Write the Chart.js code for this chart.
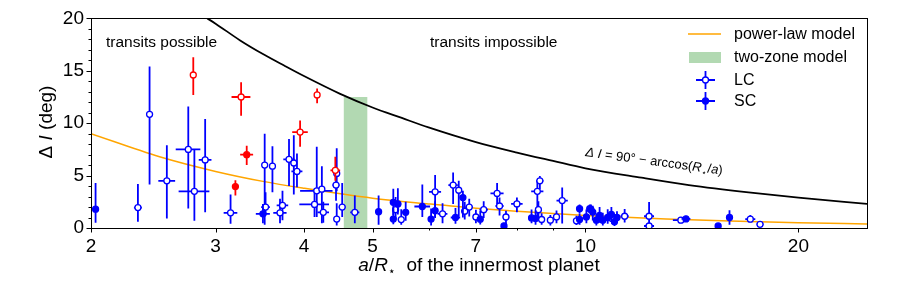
<!DOCTYPE html>
<html>
<head>
<meta charset="utf-8">
<script src="https://cdn.jsdelivr.net/npm/chart.js@4.4.1/dist/chart.umd.min.js"></script>
<style>
  html, body { margin: 0; padding: 0; background: #fff; }
</style>
</head>
<body>
<canvas id="chInc" width="913" height="286"></canvas>
<script>
// colors
var blue = '#0000ff', red = '#ff0000', orange = '#ffa500', green = 'rgba(0,128,0,0.3)';
var FONT = '"Liberation Sans", Arial, sans-serif';

// rows: [a/R*, a err, dI, dI err down, dI err up]
var lcPoints = [
  [2.33,0.03,1.95,1.35,2.25],[2.42,0,10.85,6.7,4.55],[2.56,0.07,4.5,3.6,3.4],[2.745,0.11,7.5,5.65,4.1],
  [2.80,0.14,3.5,2.8,3.95],[2.90,0.06,6.5,5.0,3.9],[3.15,0.07,1.45,1.05,1.75],[3.52,0,6.0,5.7,3.0],
  [3.53,0.05,2.0,0.8,1.4],[3.61,0,5.9,2.5,1.9],[3.70,0.08,1.45,1.0,1.35],[3.73,0.07,2.15,1.4,1.4],
  [3.81,0.07,6.55,2.55,1.95],[3.87,0.04,6.2,3.0,2.65],[3.91,0.07,5.4,1.5,1.7],[4.14,0.2,2.25,1.2,1.5],
  [4.17,0.22,3.55,2.5,4.2],[4.24,0.04,3.7,3.25,2.2],[4.26,0.08,1.5,1.0,1.0],[4.45,0.04,5.2,1.7,2.4],
  [4.44,0.05,4.1,1.5,1.5],[4.45,0.03,0.85,0.6,1.5],[4.53,0.05,2.0,0.95,2.3],[4.72,0.07,1.5,1.05,1.6],
  [5.39,0.06,1.75,0.9,1.2],[5.49,0.05,0.8,0.5,1.0],[6.13,0.12,3.45,2.4,1.6],[6.28,0.1,1.35,0.9,1.0],
  [6.50,0.1,4.1,1.8,1.2],[6.62,0.06,3.6,2.5,0.9],[6.75,0.08,1.6,0.8,0.9],[6.85,0.08,2.0,0.9,0.8],
  [7.0,0.07,1.05,0.6,0.7],[7.18,0.1,1.75,0.8,0.8],[7.5,0.16,3.3,1.0,1.0],[7.56,0.1,2.1,0.9,0.8],
  [7.72,0.08,1.05,0.7,0.6],[8.0,0.15,2.3,0.8,0.6],[8.55,0.17,3.5,2.7,1.0],[8.62,0.1,4.5,0.8,0.45],
  [8.58,0.06,1.75,0.8,0.8],[8.67,0.06,0.81,0.5,0.6],[8.92,0.06,0.75,0.5,0.5],[9.1,0.07,1.06,0.6,0.6],
  [9.27,0.17,2.62,2.2,1.25],[9.71,0.07,0.68,0.4,0.5],[10.18,0.1,1.75,0.5,0.5],[10.9,0.08,0.9,0.5,0.6],
  [11.36,0.15,1.12,0.6,0.7],[12.3,0.2,1.12,0.8,1.35],[12.3,0.2,0.19,0.15,0.2],[13.64,0.35,0.75,0.3,0.3],
  [17.1,0.28,0.84,0.3,0.4],[17.65,0.2,0.35,0.2,0.3]
];
var scPoints = [
  [2.03,0,1.8,1.3,2.5],[3.50,0.08,1.35,0.9,0.95],[5.10,0,1.55,1.25,1.55],[5.35,0.05,2.45,1.2,1.3],
  [5.43,0.06,2.3,1.0,1.5],[5.35,0.04,0.85,0.5,1.0],[5.57,0.06,1.5,0.8,1.0],[5.88,0.15,2.05,1.0,2.1],
  [6.05,0.05,0.85,0.6,1.0],[6.13,0.06,1.65,0.7,0.9],[6.55,0.1,1.0,0.6,0.9],[6.71,0.04,2.9,1.9,0.65],
  [7.1,0.05,0.84,0.5,0.8],[7.67,0,0.2,0.15,0.3],[8.39,0.08,0.96,0.5,0.8],[8.5,0.07,0.9,0.6,0.8],
  [9.81,0.1,1.84,0.4,0.4],[9.81,0.06,0.81,0.5,0.6],[10.03,0.08,1.06,0.6,0.7],[10.14,0.1,1.84,0.4,0.4],
  [10.24,0.07,1.52,0.8,0.6],[10.36,0.07,0.75,0.5,0.6],[10.47,0.08,1.2,0.7,0.8],[10.58,0.06,0.75,0.5,0.7],
  [10.75,0.07,1.0,0.6,0.8],[10.88,0.06,1.3,0.6,0.7],[10.99,0.05,0.6,0.4,0.5],[11.08,0.06,1.0,0.5,0.6],
  [13.87,0.2,0.87,0.3,0.3],[15.4,0,0.2,0.15,0.2],[15.98,0,1.0,0.7,0.7]
];
var redOpen = [[2.79,0,14.6,1.9,1.7],[3.26,0.1,12.5,1.8,1.4],[3.95,0.1,9.15,1.4,1.1],[4.175,0.03,12.7,0.8,0.6],[4.43,0.07,5.5,1.0,1.3]];
var redFilled = [[3.20,0,3.95,0.85,0.6],[3.32,0.07,7.0,1.0,0.85]];

// model curves
var powerA  = [2, 2.5, 3, 3.5, 4, 5, 6, 7, 8, 10, 13, 16, 20, 25];
var powerDI = [9.0, 6.8, 5.4, 4.45, 3.8, 2.85, 2.3, 1.88, 1.6, 1.2, 0.86, 0.66, 0.5, 0.38];
var limitA  = [2.92, 3.0, 3.25, 3.5, 3.75, 4.0, 4.5, 5.0, 5.5, 6.0, 7.0, 8.0, 9.0, 10, 12, 14, 17, 20, 25];
var limitDI = [20.0, 19.5, 17.9, 16.6, 15.5, 14.5, 12.8, 11.5, 10.5, 9.6, 8.2, 7.2, 6.4, 5.7, 4.8, 4.1, 3.4, 2.9, 2.3];
var zoneA = [4.55, 4.92], zoneTop = 12.5;

var xTicks = [2, 3, 4, 5, 7, 10, 20];
var xMinor = [6, 8, 9];

function toPts(rows) {
  return rows.map(function (r) { return {x: r[0], y: r[2], xe: r[1], ylo: r[3], yhi: r[4]}; });
}
function toLine(xs, ys) {
  return xs.map(function (v, i) { return {x: v, y: ys[i]}; });
}

// error bars drawn just before each scatter set
var errorBars = {
  id: 'errorBars',
  beforeDatasetDraw: function (chart, args) {
    var ds = chart.data.datasets[args.index];
    if (!ds.errColor) return;
    var sx = chart.scales.x, sy = chart.scales.y, ctx = chart.ctx, a = chart.chartArea;
    ctx.save();
    ctx.beginPath(); ctx.rect(a.left, a.top, a.right - a.left, a.bottom - a.top); ctx.clip();
    ctx.strokeStyle = ds.errColor; ctx.lineWidth = 1.8;
    ds.data.forEach(function (p) {
      var px = sx.getPixelForValue(p.x), py = sy.getPixelForValue(p.y);
      ctx.beginPath();
      ctx.moveTo(px, sy.getPixelForValue(p.y - p.ylo));
      ctx.lineTo(px, sy.getPixelForValue(p.y + p.yhi));
      if (p.xe) {
        ctx.moveTo(sx.getPixelForValue(p.x - p.xe), py);
        ctx.lineTo(sx.getPixelForValue(p.x + p.xe), py);
      }
      ctx.stroke();
    });
    ctx.restore();
  }
};

// frame, ticks, titles, notes, legend
var decor = {
  id: 'decor',
  afterDraw: function (chart) {
    var ctx = chart.ctx, a = chart.chartArea, sx = chart.scales.x, sy = chart.scales.y;
    ctx.save();
    ctx.strokeStyle = '#000'; ctx.lineWidth = 1;
    ctx.strokeRect(Math.round(a.left) + 0.5, Math.round(a.top) + 0.5, Math.round(a.right - a.left), Math.round(a.bottom - a.top));
    ctx.beginPath();
    xTicks.forEach(function (v) { var p = Math.round(sx.getPixelForValue(v)) + 0.5; ctx.moveTo(p, a.bottom); ctx.lineTo(p, a.bottom + 4.5); });
    xMinor.forEach(function (v) { var p = Math.round(sx.getPixelForValue(v)) + 0.5; ctx.moveTo(p, a.bottom); ctx.lineTo(p, a.bottom + 2.5); });
    for (var t = 0; t <= 20; t++) {
      var q = Math.round(sy.getPixelForValue(t)) + 0.5;
      ctx.moveTo(a.left, q); ctx.lineTo(a.left - (t % 5 === 0 ? 4.5 : 2.5), q);
    }
    ctx.stroke();

    ctx.fillStyle = '#000';
    // x title
    var parts = [['italic 19px ' + FONT, 'a', 0], ['19px ' + FONT, '/', 0], ['italic 19px ' + FONT, 'R', 0],
                 ['12px ' + FONT, '\u22c6', 4], ['19px ' + FONT, '  of the innermost planet', 0]];
    var w = 0;
    parts.forEach(function (p) { ctx.font = p[0]; w += ctx.measureText(p[1]).width; });
    var x0 = 479 - w / 2;
    ctx.textBaseline = 'alphabetic'; ctx.textAlign = 'left';
    parts.forEach(function (p) { ctx.font = p[0]; ctx.fillText(p[1], x0, 271 + p[2]); x0 += ctx.measureText(p[1]).width; });

    // y title
    ctx.save();
    ctx.translate(52, 122); ctx.rotate(-Math.PI / 2);
    var yp = [['19px ' + FONT, '\u0394 '], ['italic 19px ' + FONT, 'I'], ['19px ' + FONT, ' (deg)']];
    w = 0; yp.forEach(function (p) { ctx.font = p[0]; w += ctx.measureText(p[1]).width; });
    x0 = -w / 2;
    yp.forEach(function (p) { ctx.font = p[0]; ctx.fillText(p[1], x0, 0); x0 += ctx.measureText(p[1]).width; });
    ctx.restore();

    // region notes
    ctx.font = '15.5px ' + FONT;
    ctx.fillText('transits possible', 106, 47);
    ctx.fillText('transits impossible', 430, 47);

    // boundary formula
    ctx.save();
    ctx.translate(585, 156); ctx.rotate(0.135);
    var fp = [['italic 13px ' + FONT, '\u0394 I'], ['13px ' + FONT, ' = 90\u00b0 \u2212 arccos('], ['italic 13px ' + FONT, 'R'],
              ['8.5px ' + FONT, '\u22c6'], ['13px ' + FONT, '/'], ['italic 13px ' + FONT, 'a'], ['13px ' + FONT, ')']];
    x0 = 0;
    fp.forEach(function (p) { ctx.font = p[0]; ctx.fillText(p[1], x0, p[1] === '\u22c6' ? 3 : 0); x0 += ctx.measureText(p[1]).width; });
    ctx.restore();

    // legend
    ctx.font = '16px ' + FONT; ctx.textBaseline = 'middle';
    ctx.strokeStyle = orange; ctx.lineWidth = 1.5;
    ctx.beginPath(); ctx.moveTo(688, 34); ctx.lineTo(721, 34); ctx.stroke();
    ctx.fillText('power-law model', 734, 35);
    ctx.fillStyle = green; ctx.fillRect(689, 52, 32, 11);
    ctx.fillStyle = '#000'; ctx.fillText('two-zone model', 734, 58);
    [[80, '#fff', 'LC'], [101, blue, 'SC']].forEach(function (r) {
      ctx.strokeStyle = blue; ctx.lineWidth = 1.8;
      ctx.beginPath(); ctx.moveTo(696, r[0]); ctx.lineTo(715, r[0]); ctx.moveTo(705.5, r[0] - 9); ctx.lineTo(705.5, r[0] + 9); ctx.stroke();
      ctx.beginPath(); ctx.arc(705.5, r[0], 3, 0, Math.PI * 2);
      ctx.fillStyle = r[1]; ctx.fill(); ctx.lineWidth = 1.3; ctx.stroke();
      ctx.fillStyle = '#000'; ctx.fillText(r[2], 734, r[0] + 1);
    });
    ctx.restore();
  }
};

function scatterSet(rows, color, open) {
  return {
    type: 'scatter', data: toPts(rows), errColor: color, order: 1,
    pointRadius: 3, pointHoverRadius: 3, pointBorderWidth: 1.3,
    pointBorderColor: color, pointBackgroundColor: open ? '#fff' : color
  };
}

var chInc = document.getElementById('chInc');
new Chart(chInc, {
  type: 'scatter',
  data: {
    datasets: [
      scatterSet(redFilled, red, false),
      scatterSet(redOpen, red, true),
      scatterSet(scPoints, blue, false),
      scatterSet(lcPoints, blue, true),
      {type: 'line', data: toLine(limitA, limitDI), borderColor: '#000', borderWidth: 1.8, pointRadius: 0,
       tension: 0.4, cubicInterpolationMode: 'monotone', fill: false, order: 0},
      {type: 'line', data: toLine(powerA, powerDI), borderColor: orange, borderWidth: 1.5, pointRadius: 0,
       tension: 0.4, cubicInterpolationMode: 'monotone', fill: false, order: 3},
      {type: 'line', data: [{x: zoneA[0], y: zoneTop}, {x: zoneA[1], y: zoneTop}], borderWidth: 0,
       pointRadius: 0, backgroundColor: green, fill: 'origin', order: 5}
    ]
  },
  options: {
    responsive: false, animation: false, devicePixelRatio: 1,
    layout: {padding: {left: 0, top: 14, right: 46, bottom: 0}},
    plugins: {legend: {display: false}, tooltip: {enabled: false}},
    scales: {
      x: {
        type: 'logarithmic', min: 2, max: 25,
        grid: {display: false, drawTicks: false}, border: {display: false},
        afterBuildTicks: function (s) { s.ticks = xTicks.map(function (v) { return {value: v}; }); },
        afterFit: function (s) { s.height = 58; },
        ticks: {autoSkip: false, maxRotation: 0, padding: 7, color: '#000', font: {family: FONT, size: 19},
                callback: function (v) { return String(v); }}
      },
      y: {
        min: 0, max: 20,
        grid: {display: false, drawTicks: false}, border: {display: false},
        afterFit: function (s) { s.width = 91; },
        ticks: {stepSize: 5, padding: 7, color: '#000', font: {family: FONT, size: 19}}
      }
    }
  },
  plugins: [errorBars, decor]
});
</script>
</body>
</html>
